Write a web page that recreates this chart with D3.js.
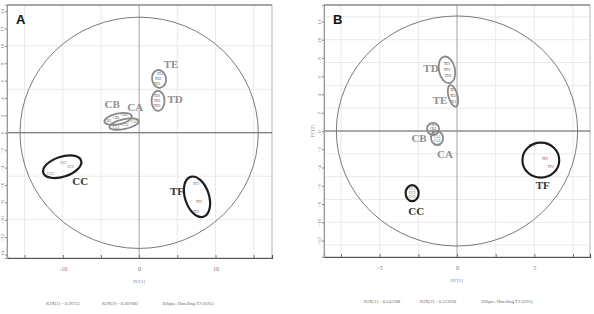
<!DOCTYPE html>
<html>
<head>
<meta charset="utf-8">
<script src="https://cdn.jsdelivr.net/npm/d3@7"></script>
<style>
  body { margin: 0; background: #fff; }
  svg { display: block; }
</style>
</head>
<body>
<div id="chart"></div>
<script>
// ---- panel A data (score plot) ----
const groupsA  = ["CA", "CB", "CC", "TD", "TE", "TF"]
const centerXA = [-1.96, -2.75, -10.07, 2.48, 2.61, 7.58]
const centerYA = [1.0, 1.6, -3.9, 3.68, 6.2, -7.36]
const radiusXA = [1.96, 1.83, 2.6, 0.85, 0.92, 1.57]
const radiusYA = [0.57, 0.63, 1.15, 1.15, 1.03, 2.41]
const tiltA    = [-12, -12, -18, 0, -10, -18]

const pointNamesA = ["CA1","CA2","CA3","CB1","CB2","CB3","CC1","CC2","CC3","TD1","TD2","TD3","TE1","TE2","TE3","TF1","TF2","TF3"]
const pointXA = [-3.01,-1.83,-0.65, -4.05,-3.01,-1.96, -9.93,-9.02,-11.63, 2.35,2.35,2.35, 2.75,2.48,2.35, 7.45,7.84,7.45]
const pointYA = [0.57,0.92,1.26, 1.38,1.72,2.07, -3.45,-3.91,-4.71, 4.25,3.68,3.1, 6.78,6.2,5.63, -5.86,-7.93,-9.08]

const yTicksA = [-14,-12,-10,-8,-6,-4,-2,0,2,4,6,8,10,12,14]
const xTicksA = [-15,-10,-5,0,5,10,15]
const xLabelsA = [-10, 0, 10]
const footerA = ["R2X[1] = 0.26755", "R2X[2] = 0.207682", "Ellipse: Hotelling T2 (0.95)"]

// ---- panel B data ----
const groupsB  = ["CA", "CB", "CC", "TD", "TE", "TF"]
const centerXB = [-1.29, -1.55, -2.9, -0.65, -0.26, 5.42]
const centerYB = [-0.77, 0.22, -6.81, 6.7, 3.85, -3.19]
const radiusXB = [0.39, 0.39, 0.42, 0.52, 0.29, 1.19]
const radiusYB = [0.77, 0.66, 0.88, 1.48, 1.21, 1.92]
const tiltB    = [-8, 0, 0, -12, -15, 0]

const pointNamesB = ["CA1","CA2","CA3","CB1","CB2","CB3","CC1","CC2","CC3","TD1","TD2","TD3","TE1","TE2","TE3","TF1","TF2","TF3"]
const pointXB = [-1.29,-1.29,-1.29, -1.55,-1.55,-1.55, -2.9,-2.9,-2.9, -0.65,-0.65,-0.58, -0.26,-0.26,-0.26, 4.84,5.68,6.06]
const pointYB = [-0.66,-1.1,-1.54, 0.66,0.22,-0.22, -6.37,-6.81,-7.25, 7.36,6.7,6.04, 4.51,3.85,3.19, -1.65,-3.08,-3.96]

const yTicksB = [-12,-10,-8,-6,-4,-2,0,2,4,6,8,10,12]
const xTicksB = [-7.5,-5,-2.5,0,2.5,5,7.5]
const xLabelsB = [-5, 0, 5]
const footerB = ["R2X[1] = 0.145708", "R2X[2] = 0.122630", "Ellipse: Hotelling T2 (0.95)"]

// CC and TF are drawn near black, the rest gray
const darkGroups = ["CC", "TF"]

const svg = d3.select("#chart").append("svg")
    .attr("width", 594)
    .attr("height", 314)

function drawPanel(p) {
    var x = d3.scaleLinear().domain(p.xDomain).range([p.left, p.right])
    var y = d3.scaleLinear().domain(p.yDomain).range([p.bottom, p.top])
    var g = svg.append("g")

    // grid
    g.selectAll(".gx").data(p.gridX).enter().append("line")
        .attr("x1", d => x(d)).attr("x2", d => x(d))
        .attr("y1", p.top).attr("y2", p.bottom)
        .attr("stroke", "#e4e4e4").attr("stroke-width", 0.8)
    g.selectAll(".gy").data(p.gridY).enter().append("line")
        .attr("y1", d => y(d)).attr("y2", d => y(d))
        .attr("x1", p.left).attr("x2", p.right)
        .attr("stroke", "#e4e4e4").attr("stroke-width", 0.8)

    // frame
    g.append("rect")
        .attr("x", p.left).attr("y", p.top)
        .attr("width", p.right - p.left).attr("height", p.bottom - p.top)
        .attr("fill", "none").attr("stroke", "#b5b5b5").attr("stroke-width", 1)
    g.append("line")
        .attr("x1", p.left).attr("x2", p.right).attr("y1", p.top).attr("y2", p.top)
        .attr("stroke", "#707070").attr("stroke-width", 1.2)

    // zero lines
    g.append("line")
        .attr("x1", p.left).attr("x2", p.right).attr("y1", y(0)).attr("y2", y(0))
        .attr("stroke", "#555").attr("stroke-width", 1.1)
    g.append("line")
        .attr("x1", x(0)).attr("x2", x(0)).attr("y1", p.top).attr("y2", p.bottom)
        .attr("stroke", "#999").attr("stroke-width", 0.9)

    // axes
    var ax = g.append("g")
        .attr("transform", "translate(0," + p.bottom + ")")
        .call(d3.axisBottom(x).tickValues(p.xTicks).tickSize(-3)
            .tickFormat(d => p.xLabels.indexOf(d) >= 0 ? d : ""))
    ax.select(".domain").attr("stroke", "#555").attr("stroke-width", 1.2)
    ax.selectAll(".tick line").attr("stroke", "#777")
    ax.selectAll("text").attr("dy", 10).attr("font-size", 6)
        .attr("font-family", "Liberation Serif").attr("fill", "#777")

    var ay = g.append("g")
        .attr("transform", "translate(" + p.left + ",0)")
        .call(d3.axisLeft(y).tickValues(p.yTicks).tickSize(2).tickPadding(1))
    ay.select(".domain").attr("stroke", "#999")
    ay.selectAll(".tick line").attr("stroke", "#888")
    ay.selectAll(".tick text")
        .attr("transform", "rotate(-90)")
        .attr("x", 0).attr("dy", "0").attr("y", -3)
        .attr("text-anchor", "middle")
        .attr("font-size", 5).attr("font-family", "Liberation Serif").attr("fill", "#777")

    // hotelling ellipse
    g.append("ellipse")
        .attr("cx", x(0)).attr("cy", y(0))
        .attr("rx", x(p.hotRx) - x(0)).attr("ry", y(0) - y(p.hotRy))
        .attr("fill", "none").attr("stroke", "#7a7a7a").attr("stroke-width", 1)

    // sample points
    var pts = p.names.map((n, i) => ({ name: n, x: p.px[i], y: p.py[i] }))
    g.selectAll(".pt").data(pts).enter().append("text")
        .attr("x", d => x(d.x)).attr("y", d => y(d.y))
        .attr("text-anchor", "middle").attr("dominant-baseline", "middle")
        .attr("font-size", 3.6).attr("font-family", "Liberation Serif")
        .attr("fill", "#444")
        .text(d => d.name)

    // group ellipses and labels
    var grp = p.groups.map((n, i) => ({
        name: n, cx: p.cx[i], cy: p.cy[i], rx: p.rx[i], ry: p.ry[i], tilt: p.tilt[i],
        dark: darkGroups.indexOf(n) >= 0
    }))
    g.selectAll(".grp").data(grp).enter().append("ellipse")
        .attr("transform", d => "translate(" + x(d.cx) + "," + y(d.cy) + ") rotate(" + d.tilt + ")")
        .attr("rx", d => x(d.rx) - x(0))
        .attr("ry", d => y(0) - y(d.ry))
        .attr("fill", "none")
        .attr("stroke", d => d.dark ? "#1e1e1e" : "#8a8a8a")
        .attr("stroke-width", d => d.dark ? 2.2 : 1.8)
    g.selectAll(".lab").data(grp).enter().append("text")
        .attr("x", d => x(d.cx) + p.labelOffset[d.name][0])
        .attr("y", d => y(d.cy) + p.labelOffset[d.name][1])
        .attr("text-anchor", "middle").attr("dominant-baseline", "middle")
        .attr("font-size", 11).attr("font-weight", "bold")
        .attr("font-family", "Liberation Serif")
        .attr("fill", d => d.dark ? "#333" : "#8f8f8f")
        .text(d => d.name)

    // panel letter
    g.append("text")
        .attr("x", p.left + 9).attr("y", p.top + 19)
        .attr("font-size", 13).attr("font-weight", "bold")
        .attr("font-family", "Liberation Sans").attr("fill", "#111")
        .text(p.letter)

    // axis titles
    g.append("text")
        .attr("x", x(0)).attr("y", p.bottom + 25)
        .attr("text-anchor", "middle")
        .attr("font-size", 5).attr("font-family", "Liberation Serif").attr("fill", "#777")
        .text("PC[1]")
    if (p.showY) {
        g.append("text")
            .attr("transform", "translate(" + (p.left - 10) + "," + y(0) + ") rotate(-90)")
            .attr("text-anchor", "middle")
            .attr("font-size", 5).attr("font-family", "Liberation Serif").attr("fill", "#777")
            .text("PC[2]")
    }

    // footer
    g.selectAll(".foot").data(p.footer).enter().append("text")
        .attr("x", (d, i) => p.footX[i]).attr("y", p.footY)
        .attr("text-anchor", "middle")
        .attr("font-size", 4.6).attr("font-family", "Liberation Serif").attr("fill", "#666")
        .text(d => d)
}

drawPanel({
    letter: "A", left: 7, right: 272, top: 5, bottom: 258,
    xDomain: [-17.3, 17.4], yDomain: [-14.4, 14.7],
    gridX: [-15, -10, -5, 5, 10, 15], gridY: [-10, -5, 5, 10],
    xTicks: xTicksA, xLabels: xLabelsA, yTicks: yTicksA,
    hotRx: 15.6, hotRy: 13.3,
    groups: groupsA, cx: centerXA, cy: centerYA, rx: radiusXA, ry: radiusYA, tilt: tiltA,
    names: pointNamesA, px: pointXA, py: pointYA,
    labelOffset: { CA: [11, -16], CB: [-6, -13], CC: [18, 16], TD: [17, 0], TE: [12, -13], TF: [-20, -4] },
    footer: footerA, footX: [63, 120, 188], footY: 305, showY: false
})

drawPanel({
    letter: "B", left: 324, right: 590, top: 5, bottom: 257,
    xDomain: [-8.6, 8.6], yDomain: [-13.8, 13.8],
    gridX: [-7.5, -5, -2.5, 2.5, 5, 7.5], gridY: [-12.5, -10, -7.5, -5, -2.5, 2.5, 5, 7.5, 10, 12.5],
    xTicks: xTicksB, xLabels: xLabelsB, yTicks: yTicksB,
    hotRx: 7.8, hotRy: 12.6,
    groups: groupsB, cx: centerXB, cy: centerYB, rx: radiusXB, ry: radiusYB, tilt: tiltB,
    names: pointNamesB, px: pointXB, py: pointYB,
    labelOffset: { CA: [8, 17], CB: [-14, 10], CC: [4, 19], TD: [-16, 0], TE: [-13, 6], TF: [2, 26] },
    footer: footerB, footX: [382, 438, 507], footY: 303, showY: true
})
</script>
</body>
</html>
